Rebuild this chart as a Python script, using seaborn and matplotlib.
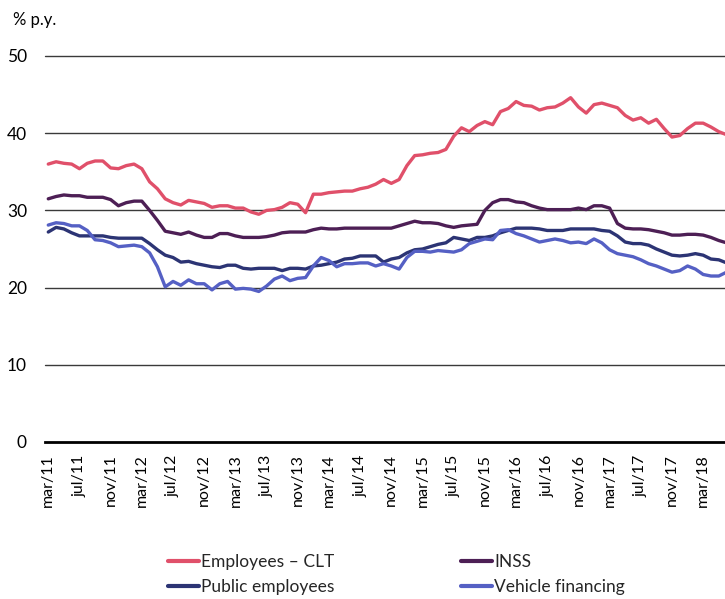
import numpy as np
import pandas as pd
import seaborn as sns
import matplotlib
matplotlib.use("Agg")
import matplotlib.pyplot as plt
from matplotlib.lines import Line2D

# Monthly rates (% p.y.), March 2011 to June 2018
months_pt = ["jan", "feb", "mar", "apr", "may", "jun", "jul", "aug", "sep", "oct", "nov", "dec"]

employees_clt = [
    36.0, 36.3, 36.1, 36.0, 35.4, 36.1, 36.4, 36.4, 35.5, 35.4,
    35.8, 36.0, 35.4, 33.7, 32.8, 31.5, 31.0, 30.7, 31.3, 31.1,
    30.9, 30.4, 30.6, 30.6, 30.3, 30.3, 29.8, 29.5, 30.0, 30.1,
    30.4, 31.0, 30.8, 29.7, 32.1, 32.1, 32.3, 32.4, 32.5, 32.5,
    32.8, 33.0, 33.4, 34.0, 33.5, 34.0, 35.8, 37.1, 37.2, 37.4,
    37.5, 37.9, 39.6, 40.7, 40.2, 41.0, 41.5, 41.1, 42.8, 43.2,
    44.1, 43.6, 43.5, 43.0, 43.3, 43.4, 43.9, 44.6, 43.4, 42.6,
    43.7, 43.9, 43.6, 43.3, 42.3, 41.7, 42.0, 41.3, 41.8, 40.6,
    39.5, 39.7, 40.6, 41.3, 41.3, 40.8, 40.2, 39.8,
]
inss = [
    31.5, 31.8, 32.0, 31.9, 31.9, 31.7, 31.7, 31.7, 31.4, 30.6,
    31.0, 31.2, 31.2, 30.0, 28.7, 27.3, 27.1, 26.9, 27.2, 26.8,
    26.5, 26.5, 27.0, 27.0, 26.7, 26.5, 26.5, 26.5, 26.6, 26.8,
    27.1, 27.2, 27.2, 27.2, 27.5, 27.7, 27.6, 27.6, 27.7, 27.7,
    27.7, 27.7, 27.7, 27.7, 27.7, 28.0, 28.3, 28.6, 28.4, 28.4,
    28.3, 28.0, 27.8, 28.0, 28.1, 28.2, 30.0, 31.0, 31.4, 31.4,
    31.1, 31.0, 30.6, 30.3, 30.1, 30.1, 30.1, 30.1, 30.3, 30.1,
    30.6, 30.6, 30.3, 28.3, 27.7, 27.6, 27.6, 27.5, 27.3, 27.1,
    26.8, 26.8, 26.9, 26.9, 26.8, 26.5, 26.1, 25.8,
]
public_employees = [
    27.2, 27.8, 27.6, 27.1, 26.7, 26.7, 26.7, 26.7, 26.5, 26.4,
    26.4, 26.4, 26.4, 25.7, 24.9, 24.2, 23.9, 23.3, 23.4, 23.1,
    22.9, 22.7, 22.6, 22.9, 22.9, 22.5, 22.4, 22.5, 22.5, 22.5,
    22.2, 22.5, 22.5, 22.4, 22.8, 22.9, 23.1, 23.3, 23.7, 23.8,
    24.1, 24.1, 24.1, 23.3, 23.7, 23.9, 24.5, 24.9, 25.0, 25.3,
    25.6, 25.8, 26.5, 26.3, 26.1, 26.5, 26.5, 26.7, 27.1, 27.4,
    27.7, 27.7, 27.7, 27.6, 27.4, 27.4, 27.4, 27.6, 27.6, 27.6,
    27.6, 27.4, 27.3, 26.7, 25.9, 25.7, 25.7, 25.5, 25.0, 24.6,
    24.2, 24.1, 24.2, 24.4, 24.2, 23.7, 23.6, 23.2,
]
vehicle_financing = [
    28.1, 28.4, 28.3, 28.0, 28.0, 27.4, 26.2, 26.1, 25.8, 25.3,
    25.4, 25.5, 25.3, 24.5, 22.7, 20.1, 20.8, 20.3, 21.0, 20.5,
    20.5, 19.7, 20.5, 20.8, 19.8, 19.9, 19.8, 19.5, 20.2, 21.1,
    21.5, 20.9, 21.2, 21.3, 22.8, 23.9, 23.5, 22.7, 23.1, 23.1,
    23.2, 23.2, 22.8, 23.1, 22.8, 22.4, 23.9, 24.7, 24.7, 24.6,
    24.8, 24.7, 24.6, 24.9, 25.7, 26.0, 26.3, 26.2, 27.4, 27.5,
    27.0, 26.7, 26.3, 25.9, 26.1, 26.3, 26.1, 25.8, 25.9, 25.7,
    26.3, 25.8, 24.9, 24.4, 24.2, 24.0, 23.6, 23.1, 22.8, 22.4,
    22.0, 22.2, 22.8, 22.4, 21.7, 21.5, 21.5, 22.0,
]

series_names = ["Employees \u2013 CLT", "INSS", "Public employees", "Vehicle financing"]
series_values = [employees_clt, inss, public_employees, vehicle_financing]
colors = ["#E0506A", "#4D1F55", "#2C3474", "#5560C4"]

n = len(employees_clt)
month_index = np.arange(n)
month_labels = []
for i in range(n):
    m = (2 + i) % 12
    y = 11 + (2 + i) // 12
    month_labels.append(f"{months_pt[m]}/{y:02d}")

frames = []
for name, vals in zip(series_names, series_values):
    frames.append(pd.DataFrame({"t": month_index, "rate": vals, "series": name}))
df = pd.concat(frames, ignore_index=True)

sns.set_theme(style="white")
plt.rcParams["font.family"] = ["Lato", "DejaVu Sans"]

fig = plt.figure(figsize=(7.25, 5.99), dpi=100)
ax = fig.add_axes([45 / 725, 1 - 442 / 599, 1 - 45 / 725, (442 - 56) / 599])

palette = dict(zip(series_names, colors))
sns.lineplot(data=df, x="t", y="rate", hue="series", palette=palette,
             hue_order=series_names, linewidth=2.4, ax=ax, legend=False,
             zorder=3)

ax.set_xlim(-0.42, 86.8)
ax.set_ylim(0, 50)

# horizontal reference lines
for yv in [10, 20, 30, 40, 50]:
    ax.axhline(yv, color="#3a3a3a", linewidth=1.0, zorder=1, clip_on=False)

for s in ["top", "right", "left"]:
    ax.spines[s].set_visible(False)
ax.spines["bottom"].set_color("black")
ax.spines["bottom"].set_linewidth(2.0)

ax.set_yticks([0, 10, 20, 30, 40, 50])
ax.set_yticklabels(["0", "10", "20", "30", "40", "50"], fontsize=12.5, color="black")
tick_pos = month_index[::4][:22]
ax.set_xticks(tick_pos)
ax.set_xticklabels([month_labels[i] for i in tick_pos], rotation=90, fontsize=11.5,
                   color="black")
ax.tick_params(axis="y", length=0, pad=13)
ax.tick_params(axis="x", length=0, pad=9)
ax.set_xlabel("")
ax.set_ylabel("")

fig.text(13 / 725, 1 - 20 / 599, "% p.y.", fontsize=12, va="center", ha="left",
         color="black")

handles = [Line2D([0], [0], color=c, linewidth=3) for c in colors]
order = [0, 2, 1, 3]
fig.legend([handles[i] for i in order], [series_names[i] for i in order],
           ncol=2, loc="upper left", bbox_to_anchor=(168 / 725, 1 - 554 / 599),
           frameon=False, fontsize=12.5, handlelength=1.8, handletextpad=0.1,
           columnspacing=7.3, labelspacing=0.5, borderpad=0, borderaxespad=0)

fig.savefig("out.png", dpi=100)
